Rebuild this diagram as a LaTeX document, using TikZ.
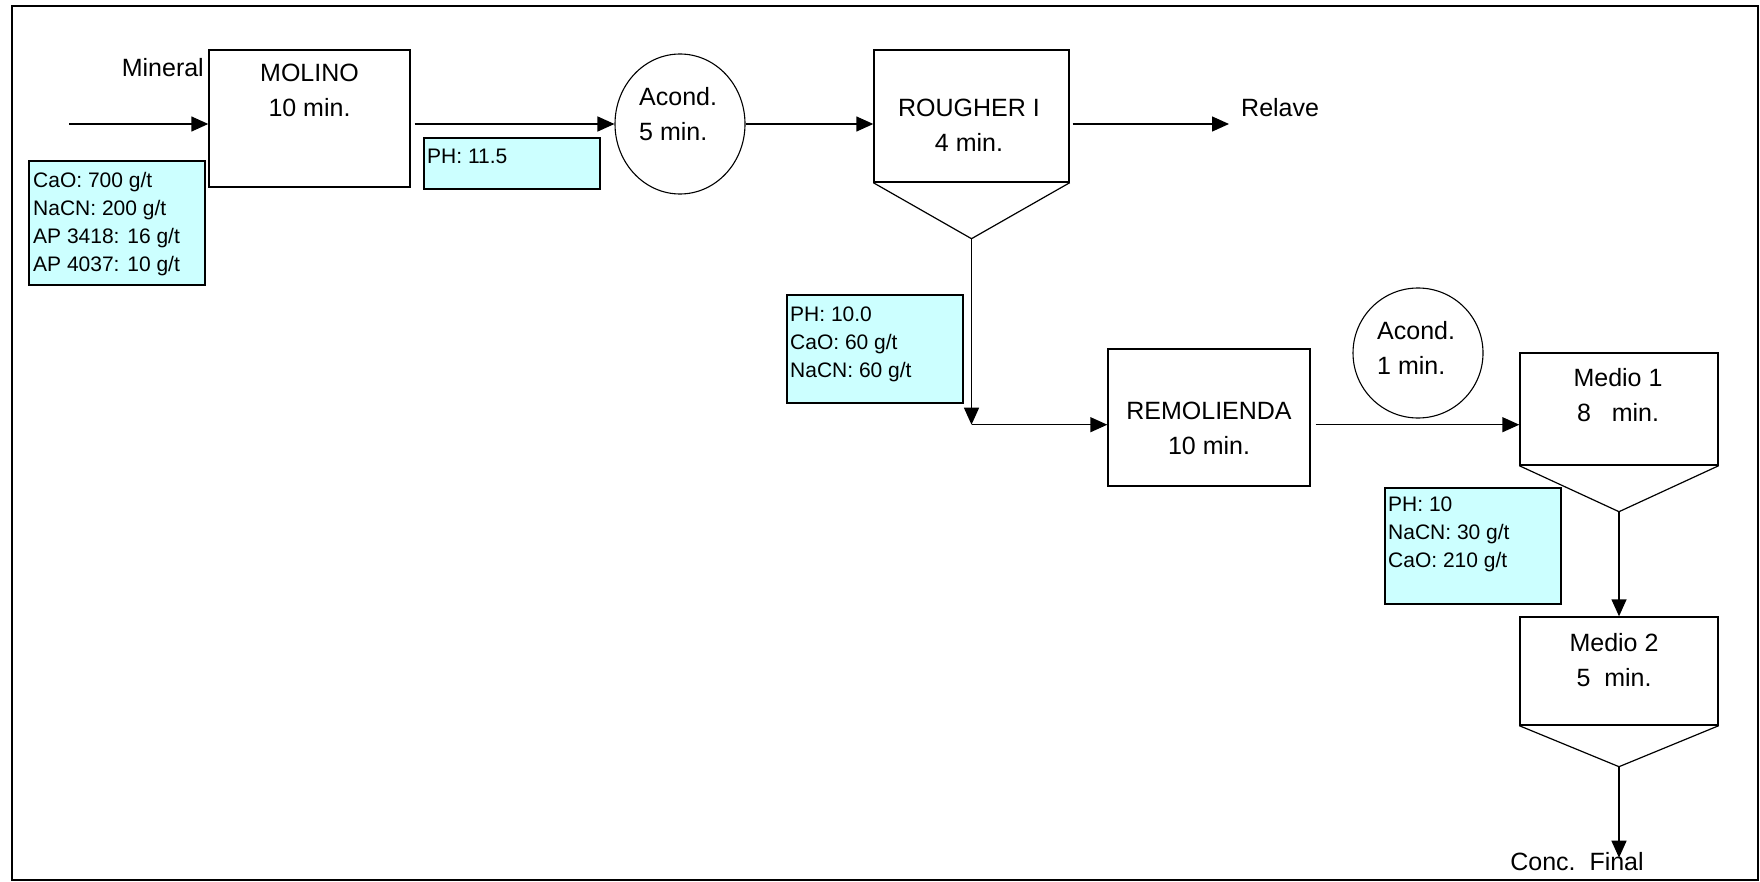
\documentclass[tikz,border=0pt]{standalone}
\usepackage{fontspec}
\setmainfont{Liberation Sans}
\usetikzlibrary{arrows.meta,shapes.geometric}
\definecolor{dosecyan}{RGB}{204,255,255}

\begin{document}
\begin{tikzpicture}[x=1pt, y=-1pt,
    unit/.style={draw, line width=1.4pt, inner sep=0pt},
    tank/.style={draw, ellipse, line width=1.1pt, inner sep=0pt},
    dose/.style={draw, line width=1.2pt, fill=dosecyan, inner sep=0pt, minimum width=176pt},
    cone/.style={line width=1.2pt},
    big/.style={inner sep=0pt, font=\fontsize{25}{35}\selectfont, align=center},
    small/.style={inner sep=0pt, font=\fontsize{21}{28}\selectfont, align=left, anchor=north west},
    flow/.style={line width=1.4pt, -{Triangle[length=17pt, width=15pt]}}
]
    \useasboundingbox (0,0) rectangle (1760,882);
    \draw[line width=1.6pt] (12,6) rectangle (1758,880);

    % equipos
    \node[unit, minimum width=201pt, minimum height=137pt] (molino) at (309.5,118.5) {};
    \node[tank, minimum width=130pt, minimum height=140pt] (acondA) at (680,124) {};
    \node[unit, minimum width=195pt, minimum height=132pt] (rougher) at (971.5,116) {};
    \node[unit, minimum width=202pt, minimum height=137pt] (remolienda) at (1209,417.5) {};
    \node[tank, minimum width=130pt, minimum height=130pt] (acondB) at (1418,353) {};
    \node[unit, minimum width=198pt, minimum height=112pt] (medioA) at (1619,409) {};
    \node[unit, minimum width=198pt, minimum height=108pt] (medioB) at (1619,671) {};

    % celdas
    \coordinate (rougherTip) at ([yshift=-56pt]rougher.south);
    \coordinate (medioATip) at ([yshift=-46pt]medioA.south);
    \coordinate (medioBTip) at ([yshift=-41pt]medioB.south);
    \draw[cone] (rougher.south west) -- (rougherTip) -- (rougher.south east);
    \draw[cone] (medioA.south west) -- (medioATip) -- (medioA.south east);
    \draw[cone] (medioB.south west) -- (medioBTip) -- (medioB.south east);

    % textos
    \node[big, anchor=east] (mineral) at (204,68) {Mineral};
    \node[big] (molinoTxt) at (309.5,90) {MOLINO\\10 min.};
    \node[big, align=left, anchor=west] (acondATxt) at (639,114.5) {Acond.\\5 min.};
    \node[big] (rougherTxt) at (969,125) {ROUGHER I\\4 min.};
    \node[big, anchor=west] (relave) at (1241,108) {Relave};
    \node[big] (remoliendaTxt) at (1209,428.5) {REMOLIENDA\\10 min.};
    \node[big, align=left, anchor=west] (acondBTxt) at (1377,347.5) {Acond.\\1 min.};
    \node[big] (medioATxt) at (1618,395.5) {Medio 1\\8\ \ \ min.};
    \node[big] (medioBTxt) at (1614,660.5) {Medio 2\\5\ \ min.};
    \node[big] (conc) at (1577,862) {Conc.\ \ Final};

    % reactivos
    \node[dose, minimum height=124pt] (reagA) at (117,223) {};
    \node[dose, minimum height=51pt] (phA) at (512,163.5) {};
    \node[dose, minimum height=108pt] (reagB) at (875,349) {};
    \node[dose, minimum height=116pt] (reagC) at (1473,546) {};
    \node[small] (reagATxt) at (33,172) {CaO: 700 g/t\\NaCN: 200 g/t\\AP 3418: 16 g/t\\AP 4037: 10 g/t};
    \node[small] (phATxt) at (427,149) {PH: 11.5};
    \node[small] (reagBTxt) at (790,307) {PH: 10.0\\CaO: 60 g/t\\NaCN: 60 g/t};
    \node[small] (reagCTxt) at (1388,497) {PH: 10\\NaCN: 30 g/t\\CaO: 210 g/t};

    % flujos
    \coordinate (feed) at (69,124);
    \coordinate (relaveEnd) at (1229,124);
    \path (rougherTip) ++(0,186) coordinate (bend);
    \path (medioBTip) ++(0,91) coordinate (concEnd);
    \draw[flow] (feed) -- (feed -| molino.west);
    \draw[flow, shorten <=4pt] (molino.east |- acondA) -- (acondA.west);
    \draw[flow] (acondA.east) -- (acondA -| rougher.west);
    \draw[flow, shorten <=3pt] (rougher.east |- acondA) -- (relaveEnd);
    \draw[flow] (rougherTip) -- (bend);
    \draw[flow] (bend) -- (bend -| remolienda.west);
    \draw[flow, shorten <=5pt] (remolienda.east |- bend) -- (bend -| medioA.west);
    \draw[flow] (medioATip) -- (medioB.north);
    \draw[flow] (medioBTip) -- (concEnd);
\end{tikzpicture}
\end{document}
